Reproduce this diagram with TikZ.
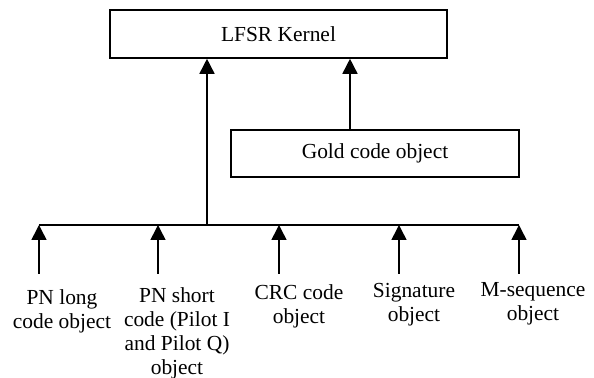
\documentclass[tikz,border=0pt]{standalone}
\usepackage{fontspec}
\setmainfont{Liberation Serif}
\usetikzlibrary{arrows.meta}

\begin{document}
\begin{tikzpicture}[
			every node/.style={font=\fontsize{12.2}{13.8}\selectfont},
			box/.style={draw, line width=0.9pt, inner sep=0pt, align=center},
			lbl/.style={anchor=north, inner sep=0pt, align=center},
			arr/.style={line width=0.9pt, -{Triangle[width=0.3cm,length=0.3cm]}}
			]
			\useasboundingbox (0,0) rectangle (11.88,7.56);
			
			% Kernel and Gold code
			\node (lfsr) [box, minimum width=6.74cm, minimum height=0.96cm] at (5.57,6.88) {LFSR Kernel};
			\node (gold) [box, minimum width=5.76cm, minimum height=0.94cm] at (7.5,4.49) {Gold code object};
			\draw[arr] ([xshift=-0.5cm]gold.north) -- ([xshift=-0.5cm]gold.north |- lfsr.south);
			
			% Bus
			\coordinate (hub) at (4.14,3.06);
			\coordinate (b1) at (0.78,3.06);
			\coordinate (b2) at (3.16,3.06);
			\coordinate (b3) at (5.58,3.06);
			\coordinate (b4) at (7.98,3.06);
			\coordinate (b5) at (10.38,3.06);
			\draw[line width=0.9pt] (b1) -- (b5);
			\draw[arr] (hub) -- (hub |- lfsr.south);
			
			% Objects
			\node (pnlong) [lbl] at (1.24,1.78) {PN long\\code object};
			\node (pnshort) [lbl] at (3.54,1.82) {PN short\\code (Pilot I\\and Pilot Q)\\object};
			\node (crc) [lbl] at (5.98,1.88) {CRC code\\object};
			\node (sig) [lbl] at (8.28,1.90) {Signature\\object};
			\node (mseq) [lbl] at (10.66,1.92) {M-sequence\\object};
			\foreach \i in {1,...,5}
				\draw[arr] (b\i) ++(0,-0.98) -- (b\i);
		\end{tikzpicture}
\end{document}
